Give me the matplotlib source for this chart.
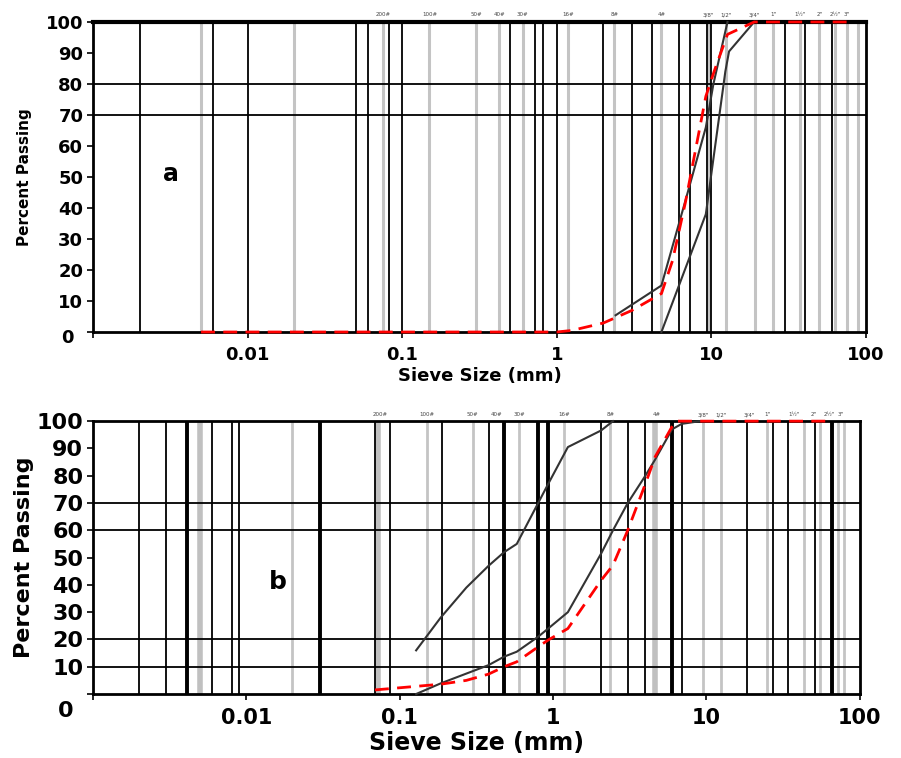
import matplotlib
matplotlib.use("Agg")
import matplotlib.pyplot as plt

# ---- panel a data -----------------------------------------------------
a_red_x = [0.005, 1.0, 1.25, 2.0, 3.07, 4.75, 5.6, 6.8, 9.2, 10.4, 12.7, 18.9, 77]
a_red_y = [0, 0, 0.5, 2.9, 7, 12.4, 23, 42, 76, 84, 96, 100, 100]
a_blk1_x = [2.4, 4.75, 6.8, 9.2, 10.3, 12.7]
a_blk1_y = [5.4, 15, 42.5, 66, 80, 100]
a_blk2_x = [4.75, 9.2, 12.3, 13.0, 18.9]
a_blk2_y = [0, 38, 84, 90.5, 100]

a_black_lines = [0.002, 0.006, 0.01, 0.05, 0.06, 0.082, 0.1, 0.5, 0.72, 0.81,
                 1.0, 2.0, 3.07, 4.14, 6.2, 7.3, 9.3, 10, 30, 40, 60]
a_gray_lines = [0.005, 0.02, 0.075, 0.15, 0.3, 0.425, 0.6, 1.18, 2.36, 4.75,
                9.6, 12.5, 19, 25, 37.5, 50, 63, 75, 89]
a_hlines = [70, 80]

# ---- panel b data -----------------------------------------------------
b_blk1_x = [0.128, 0.185, 0.272, 0.38, 0.48, 0.58, 0.8, 0.93, 1.25, 2.06, 2.46]
b_blk1_y = [16, 28, 39, 47, 52, 55, 70, 77, 90.5, 96.6, 100]
b_blk2_x = [0.128, 0.185, 0.38, 0.48, 0.58, 0.8, 0.93, 1.25, 2.06, 2.46, 3.07,
            4.0, 4.64, 5.97, 6.9, 9.1]
b_blk2_y = [0, 3.9, 10.6, 13.7, 15.5, 21, 24, 30, 51.5, 60, 70, 80, 86, 97, 99, 100]
b_red_x = [0.069, 0.185, 0.272, 0.38, 0.48, 0.58, 0.8, 0.93, 1.25, 2.06, 2.46,
           3.07, 4.0, 4.64, 5.97, 6.3, 61]
b_red_y = [1.5, 3.6, 5, 7.3, 10, 11.8, 17.3, 19.8, 24, 41.7, 47.2, 60, 77, 87,
           98, 100, 100]

b_black_lines = [0.002, 0.003, 0.006, 0.0081, 0.009, 0.069, 0.087, 0.19, 0.38,
                 2.06, 3.07, 4.0, 6.9, 18.4, 27, 34, 51]
b_black_thick = [0.0041, 0.03, 0.48, 0.8, 0.93, 5.97, 66]
b_gray_lines = [0.02, 0.15, 0.3, 0.6, 1.18, 2.36, 9.5, 12.5, 25, 43, 55, 72, 79]
b_gray_thick = [0.005, 0.072, 4.64]
b_hlines = [10, 20, 60, 70]

# sieve names along the top
sieve_pos = [0.075, 0.15, 0.3, 0.425, 0.6, 1.18, 2.36, 4.75,
             9.5, 12.5, 19, 25, 37.5, 50, 63, 75]
sieve_lab = ['200#', '100#', '50#', '40#', '30#', '16#', '8#', '4#',
             '3/8"', '1/2"', '3/4"', '1"', '1½"', '2"', '2½"', '3"']

xticks = [0.001, 0.01, 0.1, 1, 10, 100]
xtick_lab = ['', '0.01', '0.1', '1', '10', '100']
yticks = [0, 10, 20, 30, 40, 50, 60, 70, 80, 90, 100]

fig = plt.figure(figsize=(9.01, 7.58), dpi=100)
ax_a = fig.add_axes([0.1032, 0.562, 0.858, 0.409])
ax_b = fig.add_axes([0.1032, 0.0844, 0.851, 0.360])


def setup(ax, tsize, ysize, lsize, ylsize, ylpad, zero_off, spw):
    ax.set_xscale('log')
    ax.set_xlim(0.001, 100)
    ax.set_ylim(0, 100)
    ax.set_xticks(xticks)
    ax.set_xticklabels(xtick_lab)
    ax.minorticks_off()
    ax.set_yticks(yticks)
    ax.set_yticklabels([''] + [str(v) for v in yticks[1:]])
    ax.tick_params(axis='x', labelsize=tsize, length=4, width=1.2, pad=6)
    ax.tick_params(axis='y', labelsize=ysize, length=4, width=1.2, pad=3)
    for t in ax.get_xticklabels() + ax.get_yticklabels():
        t.set_fontweight('bold')
    ax.annotate('0', xy=(0, 0), xycoords=('axes fraction', 'data'),
                xytext=(-14, -zero_off), textcoords='offset points',
                ha='right', va='center', fontsize=ysize, fontweight='bold')
    for s in ax.spines.values():
        s.set_linewidth(spw)
    ax.set_xlabel('Sieve Size (mm)', fontsize=lsize, fontweight='bold', labelpad=2)
    ax.set_ylabel('Percent Passing', fontsize=ylsize, fontweight='bold', labelpad=ylpad)
    for x, lab in zip(sieve_pos, sieve_lab):
        ax.text(x, 101.5, lab, fontsize=4, ha='center', va='bottom', color='#444444')


# panel a
for x in a_gray_lines:
    ax_a.axvline(x, color='#c4c4c4', lw=2.2, zorder=1)
for x in a_black_lines:
    ax_a.axvline(x, color='black', lw=1.3, zorder=1)
for y in a_hlines:
    ax_a.axhline(y, color='black', lw=1.3, zorder=1)
ax_a.plot(a_blk1_x, a_blk1_y, color='#333333', lw=1.5, zorder=3, clip_on=False)
ax_a.plot(a_blk2_x, a_blk2_y, color='#333333', lw=1.5, zorder=3, clip_on=False)
ax_a.plot(a_red_x, a_red_y, color='red', lw=2, ls=(0, (5, 3)), zorder=4, clip_on=False)
ax_a.text(0.0032, 51, 'a', fontsize=17, fontweight='bold', ha='center', va='center')
setup(ax_a, 13, 13, 13, 11, 10, 4, 2)
ax_a.spines['top'].set_linewidth(3)

# panel b
for x in b_gray_lines:
    ax_b.axvline(x, color='#c4c4c4', lw=2, zorder=1)
for x in b_gray_thick:
    ax_b.axvline(x, color='#c0c0c0', lw=4, zorder=1)
for x in b_black_lines:
    ax_b.axvline(x, color='black', lw=1.3, zorder=1)
for x in b_black_thick:
    ax_b.axvline(x, color='black', lw=2.8, zorder=1)
for y in b_hlines:
    ax_b.axhline(y, color='black', lw=1.3, zorder=1)
ax_b.plot(b_blk1_x, b_blk1_y, color='#333333', lw=1.5, zorder=3, clip_on=False)
ax_b.plot(b_blk2_x, b_blk2_y, color='#333333', lw=1.5, zorder=3, clip_on=False)
ax_b.plot(b_red_x, b_red_y, color='red', lw=2, ls=(0, (5, 3)), zorder=4, clip_on=False)
ax_b.text(0.016, 41, 'b', fontsize=18, fontweight='bold', ha='center', va='center')
setup(ax_b, 15, 16, 17, 16, 2, 12, 2)

fig.savefig('out.png', dpi=100)
